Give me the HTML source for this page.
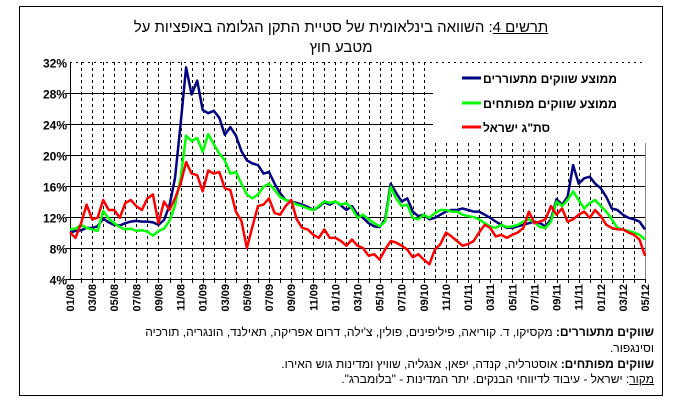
<!DOCTYPE html>
<html><head><meta charset="utf-8">
<style>
html,body{margin:0;padding:0;background:#fff;}
body{width:678px;height:419px;position:relative;overflow:hidden;font-family:"Liberation Sans",Arial,sans-serif;}
#frame{position:absolute;left:19px;top:6px;width:644px;height:390px;border:1px solid #000;box-sizing:border-box;}
.title{position:absolute;left:19px;width:644px;text-align:center;direction:rtl;font-size:15px;color:#000;}
.note{position:absolute;right:24px;direction:rtl;text-align:right;font-size:12px;white-space:nowrap;font-family:"Liberation Sans Narrow","Liberation Sans",sans-serif;}
</style></head>
<body>
<div id="frame"></div>
<div class="title" style="top:19px"><span style="text-decoration:underline">תרשים 4</span>: השוואה בינלאומית של סטיית התקן הגלומה באופציות על</div>
<div class="title" style="top:39px">מטבע חוץ</div>
<svg id="chart" width="678" height="419" style="position:absolute;left:0;top:0"></svg>
<div class="note" style="top:325px"><b>שווקים מתעוררים:</b> מקסיקו, ד. קוריאה, פיליפינים, פולין, צ'ילה, דרום אפריקה, תאילנד, הונגריה, תורכיה</div>
<div class="note" style="top:341px">וסינגפור.</div>
<div class="note" style="top:357px"><b>שווקים מפותחים:</b> אוסטרליה, קנדה, יפאן, אנגליה, שוויץ ומדינות גוש האירו.</div>
<div class="note" style="top:372px"><u>מקור</u>: ישראל - עיבוד לדיווחי הבנקים. יתר המדינות - "בלומברג".</div>
<script>
const xLabels=["01/08","03/08","05/08","07/08","09/08","11/08","01/09","03/09","05/09","07/09","09/09","11/09","01/10","03/10","05/10","07/10","09/10","11/10","01/11","03/11","05/11","07/11","09/11","11/11","01/12","03/12","05/12"];
const yTicks=[4,8,12,16,20,24,28,32];
const seriesNames=["ממוצע שווקים מתעוררים","ממוצע שווקים מפותחים","סת\"ג ישראל"];
const emerging=[10.0,10.2,10.3,10.6,10.6,10.8,11.8,11.3,11.0,10.9,11.2,11.4,11.5,11.4,11.4,11.3,11.0,11.6,13.5,17.0,24.0,31.3,27.8,29.6,25.8,25.4,25.7,24.8,22.6,23.6,22.5,20.5,19.3,18.9,18.7,17.6,17.8,16.3,15.1,14.2,14.0,13.8,13.6,13.3,12.9,13.3,13.9,13.6,14.0,13.5,12.9,13.4,12.3,11.9,11.2,10.8,10.7,11.7,16.3,15.1,14.0,14.4,12.7,12.1,12.3,11.7,11.9,12.3,12.7,12.9,12.9,13.1,12.9,12.7,12.7,12.3,11.9,11.4,11.0,10.6,10.6,10.8,11.0,11.2,11.4,11.2,10.8,11.7,14.3,13.6,14.6,18.7,16.3,17.0,17.2,16.3,15.7,14.6,13.1,12.9,12.3,11.9,11.7,11.4,10.4];
const developed=[10.4,10.5,11.0,10.6,10.4,10.2,12.8,11.8,11.2,10.7,10.4,10.5,10.2,10.3,10.1,9.6,10.2,10.5,11.5,13.5,17.0,22.5,21.8,22.2,20.4,22.7,21.4,20.2,19.3,17.6,17.8,16.3,14.9,14.4,14.9,15.9,16.3,15.5,14.6,14.2,14.0,13.6,13.4,13.1,12.9,13.4,14.0,13.8,14.0,13.6,13.8,13.1,11.9,12.3,11.7,11.2,10.8,11.4,15.9,14.4,13.4,13.6,11.9,11.7,12.3,11.9,12.5,12.9,12.9,12.7,12.7,12.3,12.1,12.0,11.7,11.2,10.8,10.6,11.0,10.7,10.8,11.0,11.4,11.7,11.3,10.7,10.6,11.4,14.0,13.4,14.2,15.3,14.2,13.1,13.8,14.2,13.4,12.7,11.7,10.6,10.4,10.2,10.0,9.7,9.1];
const israel=[10.0,9.3,11.2,13.6,11.7,11.9,14.2,12.9,12.9,11.9,13.8,14.2,13.4,12.9,14.4,14.9,11.2,14.0,12.9,14.4,16.3,19.1,17.6,17.4,15.3,18.0,17.6,17.8,15.7,15.5,12.7,11.5,8.0,10.8,13.4,13.6,14.4,12.5,12.3,13.4,14.2,11.7,10.6,10.4,9.7,9.3,10.4,9.3,9.3,8.9,8.3,9.1,8.3,8.0,7.0,7.2,6.5,7.8,8.9,8.7,8.3,7.8,6.8,7.2,6.5,5.9,7.8,8.5,10.0,9.5,8.9,8.3,8.5,8.9,10.0,11.0,10.6,9.5,9.7,9.3,9.7,10.0,10.6,12.7,11.2,11.4,11.7,13.4,12.3,13.1,11.4,11.7,12.3,12.7,11.9,12.9,12.1,11.0,10.6,10.4,10.4,10.0,9.7,9.1,7.0];
const colors=["#000080","#00ff00","#ff0000"];

const NS="http://www.w3.org/2000/svg";
const svg=document.getElementById('chart');
const X0=70,X1=645,Y0=279,Y1=62,TMAX=52;
const LEG_X=433,LEG_Y=143;
function x(t){return X0+(X1-X0)*t/TMAX;}
function y(v){return Y0-(v-4)*(Y0-Y1)/28;}
function el(tag,attrs){const e=document.createElementNS(NS,tag);for(const k in attrs)e.setAttribute(k,attrs[k]);svg.appendChild(e);return e;}

for(let m=1;m<=TMAX;m++){
  const xx=Math.round(x(m))+0.5;
  const top=xx>LEG_X?LEG_Y:Y1;
  const g=el('line',{x1:xx,x2:xx,y1:top,y2:Y0,stroke:m===TMAX?'#888':'#000','stroke-width':1,'stroke-dasharray':m===TMAX?'':'3,3'});
  
  
  const tk=el('line',{x1:xx,x2:xx,y1:Y0,y2:Y0+4,stroke:'#000'});
  
  
}
yTicks.forEach(v=>{
  const yy=Math.round(y(v))+0.5;
  let x2=X1;
  if(yy<LEG_Y)x2=LEG_X;
  const attrs={x1:X0-4,x2:x2,y1:yy,y2:yy,stroke:'#000','stroke-width':1};
  if(v===32){attrs.x2=X1;attrs['stroke-dasharray']='2,4';attrs.x1=X0;}
  const g=el('line',attrs);
  
  
  const t=el('text',{x:X0-3,y:yy+5,'text-anchor':'end','font-size':'12','font-weight':'bold','font-family':'Liberation Sans, sans-serif'});
  t.textContent=v+'%';
  
  
});
const ya=el('line',{x1:X0+0.5,x2:X0+0.5,y1:Y1,y2:Y0,stroke:'#000'});


const xa=el('line',{x1:X0,x2:X1,y1:Y0+0.5,y2:Y0+0.5,stroke:'#000'});


xLabels.forEach((lab,i)=>{
  const xx=x(i*2)+4;
  const t=el('text',{x:0,y:0,transform:`translate(${xx},284) rotate(-90)`,'text-anchor':'end','font-size':'11','font-weight':'bold','font-family':'Liberation Sans, sans-serif'});
  t.textContent=lab;
  
  
});
[emerging,developed,israel].forEach((arr,si)=>{
  const pts=arr.map((v,i)=>x(i*0.5).toFixed(1)+','+y(v).toFixed(1)).join(' ');
  const p=el('polyline',{points:pts,fill:'none',stroke:colors[si],'stroke-width':2.5,'stroke-linejoin':'round'});
  
  
});
const legY=[78,103,127];
const legW=[134,134,67];
seriesNames.forEach((n,i)=>{
  const l=el('line',{x1:462,x2:481,y1:legY[i],y2:legY[i],stroke:colors[i],'stroke-width':3});
  
  
  const t=el('text',{x:483,y:legY[i]+5,'text-anchor':'start','font-size':'12','font-weight':'bold','font-family':'Liberation Sans, sans-serif',textLength:legW[i],lengthAdjust:'spacingAndGlyphs'});
  t.textContent=n;
  
  
});
</script>
</body></html>
